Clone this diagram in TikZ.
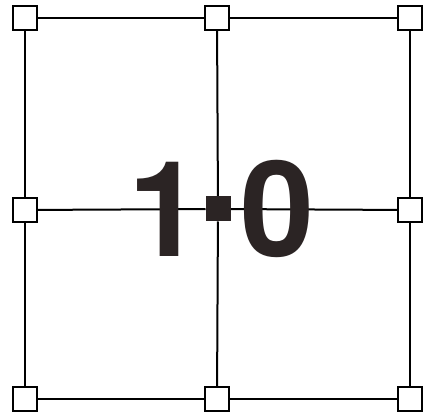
\documentclass[tikz,border=0pt]{standalone}
\usepackage{fontspec}
\setmainfont{TeX Gyre Heros}
\usetikzlibrary{backgrounds}
\definecolor{digit}{HTML}{2B2424}
\begin{document}
\begin{tikzpicture}[x=1pt,y=1pt,
  grid/.style={line width=2pt,black},
  vtx/.style={draw=black,line width=1.8pt,fill=white,minimum size=24pt,inner sep=0pt,outer sep=0pt},
  ctr/.style={fill=digit,minimum size=25pt,inner sep=0pt,outer sep=0pt},
  big/.style={text=digit,inner sep=0pt,font=\fontsize{133}{133}\selectfont\bfseries}]
\useasboundingbox (0,0) rectangle (426,415);
\node[vtx] (a1) at (25,397) {};
\node[vtx] (a2) at (217,397) {};
\node[vtx] (a3) at (410,397) {};
\node[vtx] (b1) at (25,205) {};
\node[ctr] (c)  at (218,206) {};
\node[vtx] (b3) at (410,205) {};
\node[vtx] (d1) at (25,16) {};
\node[vtx] (d2) at (217,16) {};
\node[vtx] (d3) at (410,16) {};
\node[big,anchor=base west] (one) at (128,158) {1};
\node[big,anchor=base west] (zero) at (240.5,158) {0};
\begin{scope}[on background layer]
\draw[grid] (a1) -- (a2);
\draw[grid] (a2) -- (a3);
\draw[grid] (d1) -- (d2);
\draw[grid] (d2) -- (d3);
\draw[grid] (a1) -- (b1);
\draw[grid] (b1) -- (d1);
\draw[grid] (a3) -- (b3);
\draw[grid] (b3) -- (d3);
\draw[grid] (b1) -- (c);
\draw[grid] (c) -- (b3);
\draw[grid] (a2) -- (c);
\draw[grid] (c) -- (d2);
\end{scope}
\end{tikzpicture}
\end{document}
